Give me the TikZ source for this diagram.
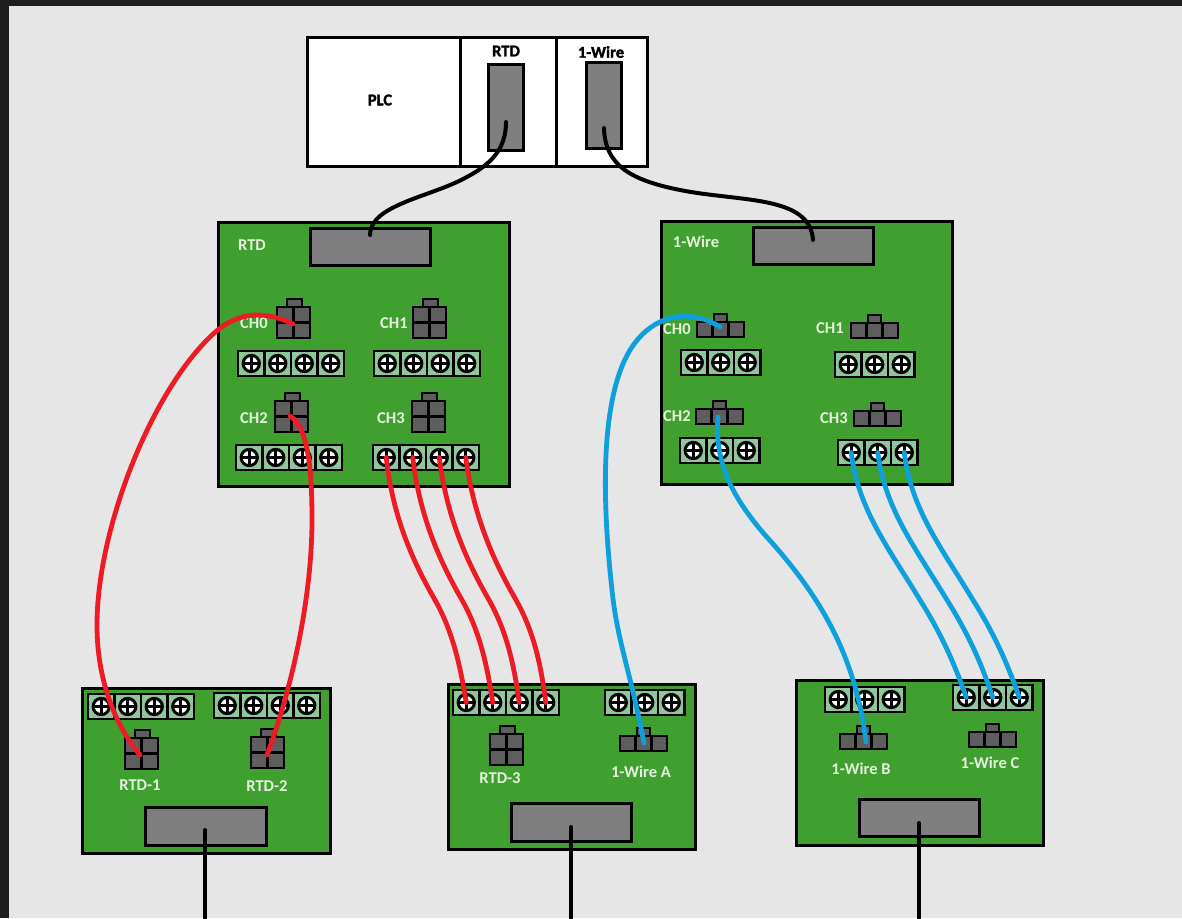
\documentclass[tikz,border=0pt]{standalone}
\usepackage{fontspec}
\setmainfont{Carlito}
\newfontfamily\plcfont[UprightFont=* Bold,FakeBold=1.6]{Carlito}
\definecolor{bgdark}{HTML}{1E1E1E}
\definecolor{bglight}{HTML}{E6E6E6}
\definecolor{board}{HTML}{3FA030}
\definecolor{cellg}{HTML}{8FC79B}
\definecolor{slotg}{HTML}{7F7F7F}
\definecolor{ping}{HTML}{5E5E5E}
\definecolor{wred}{HTML}{ED1C24}
\definecolor{wblue}{HTML}{0E9FDD}
\definecolor{lbl}{HTML}{E4F1DC}
\tikzset{
  pxbox/.style={draw=black,rectangle,inner sep=0pt,outer sep=0pt,anchor=north west},
  boardbox/.style={pxbox,fill=board,line width=2.25pt},
  whitebox/.style={pxbox,fill=white,line width=2.25pt},
  slotbox/.style={pxbox,fill=slotg,line width=2.25pt},
  pinbox/.style={pxbox,fill=ping,line width=1.9pt},
  cellbox/.style={pxbox,fill=cellg,line width=1.9pt},
  screwhead/.style={circle,fill=black,inner sep=0pt,outer sep=0pt,minimum size=14.5pt},
  boardlabel/.style={text=lbl,font=\fontsize{12.4}{14}\selectfont\bfseries,inner sep=0pt},
  plclabel/.style={text=black,font=\fontsize{12.4}{14}\selectfont\plcfont,inner sep=0pt},
  wire/.style={line cap=round,line join=round},
  blackwire/.style={wire,draw=black,line width=3pt},
  redwire/.style={wire,draw=wred,line width=3.6pt},
  bluewire/.style={wire,draw=wblue,line width=3.6pt},
}
% box by corners in reference pixels
\newcommand{\pxrect}[6]{%
  \pgfmathsetmacro{\pxw}{(#5-#3)*0.75}\pgfmathsetmacro{\pxh}{(#6-#4)*0.75}%
  \node[#2,minimum width=\pxw pt,minimum height=\pxh pt] (#1) at (#3,#4) {};}
% terminal block: name, left, top, ways
\newcommand{\termblock}[4]{%
  \foreach \k in {1,...,#4}{%
    \pgfmathsetmacro{\cx}{#2+1+26.5*(\k-1)}%
    \pgfmathsetmacro{\cxe}{\cx+26.5}%
    \pgfmathsetmacro{\ctp}{#3+1}%
    \pgfmathsetmacro{\cbt}{#3+26}%
    \pxrect{#1-c\k}{cellbox}{\cx}{\ctp}{\cxe}{\cbt}
    \pgfmathsetmacro{\sx}{\cx+13.25}\pgfmathsetmacro{\sy}{#3+13.5}%
    \node[screwhead] (#1-\k) at (\sx,\sy) {};
    \fill[white] (#1-\k) circle (6.5);
    \draw[black,line width=2.1pt] ([xshift=-5.2pt]#1-\k.center) -- ([xshift=5.2pt]#1-\k.center);
    \draw[black,line width=2.1pt] ([yshift=-5.2pt]#1-\k.center) -- ([yshift=5.2pt]#1-\k.center);
  }}
% 4-pin connector: name, left, top
\newcommand{\fourpin}[3]{%
  \pgfmathsetmacro{\tx}{#2+11}\pgfmathsetmacro{\ty}{#3-7}\pgfmathsetmacro{\txe}{#2+26}%
  \pgfmathsetmacro{\tye}{#3+1}%
  \pxrect{#1-tab}{pinbox}{\tx}{\ty}{\txe}{\tye}
  \foreach \r/\c in {0/0,0/1,1/0,1/1}{%
    \pgfmathsetmacro{\ax}{#2+1+16.5*\c}\pgfmathsetmacro{\ay}{#3+1+15.5*\r}%
    \pgfmathsetmacro{\bx}{\ax+16.5}\pgfmathsetmacro{\by}{\ay+15.5}%
    \pxrect{#1-r\r c\c}{pinbox}{\ax}{\ay}{\bx}{\by}
  }}
% 3-pin connector: name, left, top
\newcommand{\threepin}[3]{%
  \pgfmathsetmacro{\tx}{#2+18}\pgfmathsetmacro{\ty}{#3-7}\pgfmathsetmacro{\txe}{#2+31}%
  \pgfmathsetmacro{\tye}{#3+1}%
  \pxrect{#1-tab}{pinbox}{\tx}{\ty}{\txe}{\tye}
  \foreach \c in {0,1,2}{%
    \pgfmathsetmacro{\ax}{#2+1+15.67*\c}\pgfmathsetmacro{\bx}{\ax+15.67}\pgfmathsetmacro{\ay}{#3+1}\pgfmathsetmacro{\by}{#3+16}%
    \pxrect{#1-p\c}{pinbox}{\ax}{\ay}{\bx}{\by}
  }}
\begin{document}
\begin{tikzpicture}[x=0.75pt,y=-0.75pt]
\useasboundingbox (0,0) rectangle (1182,918);
\fill[bgdark] (0,0) rectangle (1182,918);
\fill[bglight] (9,6) rectangle (1182,918);

% PLC
\pxrect{plc}{whitebox}{307}{37}{460}{166}
\pxrect{plcrtd}{whitebox}{460}{37}{556}{166}
\pxrect{plcow}{whitebox}{556}{37}{647}{166}
\pxrect{slotrtd}{slotbox}{488}{64}{523}{150}
\pxrect{slotow}{slotbox}{586}{62}{621}{148}
\node[plclabel] (tplc) at (380,100) {PLC};
\node[plclabel] (trtd) at (506,51) {RTD};
\node[plclabel] (tow) at (601,52) {1-Wire};

% Boards
\pxrect{brtd}{boardbox}{218}{222}{509}{486}
\pxrect{bow}{boardbox}{661}{221}{952}{484}
\pxrect{bl1}{boardbox}{82}{688}{330}{853}
\pxrect{bl2}{boardbox}{448}{684}{695}{849}
\pxrect{bl3}{boardbox}{796}{680}{1043}{845}

% Grey connectors
\pxrect{grtd}{slotbox}{310}{228}{430}{265}
\pxrect{gow}{slotbox}{753}{227}{873}{264}
\pxrect{gl1}{slotbox}{145}{807}{266}{845}
\pxrect{gl2}{slotbox}{511}{803}{631}{841}
\pxrect{gl3}{slotbox}{859}{799}{979}{836}

% Terminal blocks
\termblock{tb0}{237}{350}{4}
\termblock{tb1}{373}{350}{4}
\termblock{tb2}{235}{444}{4}
\termblock{tb3}{372}{444}{4}
\termblock{tr1}{87}{693}{4}
\termblock{tr2}{213}{692}{4}
\termblock{tr3}{452}{689}{4}
\termblock{to0}{680}{349}{3}
\termblock{to1}{834}{351}{3}
\termblock{to2}{679}{437}{3}
\termblock{to3}{837}{439}{3}
\termblock{toa}{604}{689}{3}
\termblock{tob}{824}{686}{3}
\termblock{toc}{952}{684}{3}

% Connectors
\fourpin{c0}{276}{306}
\fourpin{c1}{412}{306}
\fourpin{c2}{274}{400}
\fourpin{c3}{411}{400}
\fourpin{cr1}{124}{737}
\fourpin{cr2}{250}{736}
\fourpin{cr3}{489}{733}
\threepin{w0}{696}{321}
\threepin{w1}{850}{322}
\threepin{w2}{695}{408}
\threepin{w3}{853}{410}
\threepin{wa}{619}{735}
\threepin{wb}{839}{733}
\threepin{wc}{968}{731}

% Labels
\node[boardlabel] (lrtd) at (252,245) {RTD};
\node[boardlabel] (low) at (696,242) {1-Wire};
\node[boardlabel] (lc0) at (254,323) {CH0};
\node[boardlabel] (lc1) at (394,323) {CH1};
\node[boardlabel] (lc2) at (254,418) {CH2};
\node[boardlabel] (lc3) at (391,418) {CH3};
\node[boardlabel] (lw0) at (677,329) {CH0};
\node[boardlabel] (lw1) at (830,328) {CH1};
\node[boardlabel] (lw2) at (677,416) {CH2};
\node[boardlabel] (lw3) at (834,418) {CH3};
\node[boardlabel] (lr1) at (140,785) {RTD-1};
\node[boardlabel] (lr2) at (267,786) {RTD-2};
\node[boardlabel] (lr3) at (500,778) {RTD-3};
\node[boardlabel] (la) at (641,772) {1-Wire A};
\node[boardlabel] (lb) at (861,769) {1-Wire B};
\node[boardlabel] (lcc) at (990,763) {1-Wire C};

% Wire end points
\coordinate (ertd) at (506,122);
\coordinate (eow) at (604,128);
\coordinate (egrtd) at (370,235);
\coordinate (egow) at (813,240);
\coordinate (eg1) at (205,830);
\coordinate (eg2) at (571,827);
\coordinate (eg3) at (919,823);
\coordinate (off1) at (205,918);
\coordinate (off2) at (571,918);
\coordinate (off3) at (919,918);
\coordinate (pc0) at (293,324);
\coordinate (pc2) at (290,416);
\coordinate (pr1) at (140,755);
\coordinate (pr2) at (267,755);
\coordinate (pw0) at (720,327);
\coordinate (pw2) at (718,417);
\coordinate (pwa) at (644,743);
\coordinate (pwb) at (866,742);

% Black cables
\draw[blackwire] (ertd) .. controls (506,150) and (490,165) .. (465,178) .. controls (430,197) and (370,205) .. (egrtd);
\draw[blackwire] (eow) .. controls (605,165) and (630,180) .. (680,190) .. controls (740,202) and (810,195) .. (egow);
\draw[blackwire] (eg1) -- (off1);
\draw[blackwire] (eg2) -- (off2);
\draw[blackwire] (eg3) -- (off3);

% Red wires
\draw[redwire] (pc0) .. controls (270,313) and (240,307) .. (210,337) .. controls (150,395) and (97,530) .. (97,625) .. controls (97,680) and (115,725) .. (pr1);
\draw[redwire] (pc2) .. controls (310,428) and (312,480) .. (312,520) .. controls (312,590) and (295,680) .. (pr2);
\draw[redwire] (tb3-1.center) .. controls (393,520) and (415,565) .. (435,600) .. controls (453,632) and (460,665) .. (tr3-1.center);
\draw[redwire] (tb3-2.center) .. controls (420,520) and (442,565) .. (462,600) .. controls (480,632) and (487,665) .. (tr3-2.center);
\draw[redwire] (tb3-3.center) .. controls (447,520) and (469,565) .. (489,600) .. controls (507,632) and (514,665) .. (tr3-3.center);
\draw[redwire] (tb3-4.center) .. controls (474,520) and (496,565) .. (516,600) .. controls (534,632) and (541,665) .. (tr3-4.center);

% Blue wires
\draw[bluewire] (pw0) .. controls (695,310) and (655,310) .. (630,350) .. controls (600,400) and (602,500) .. (612,590) .. controls (617,640) and (630,670) .. (pwa);
\draw[bluewire] (pw2) .. controls (714,465) and (735,500) .. (765,535) .. controls (815,590) and (855,650) .. (pwb);
\draw[bluewire] (to3-1.center) .. controls (858,510) and (890,550) .. (920,600) .. controls (942,635) and (955,665) .. (toc-1.center);
\draw[bluewire] (to3-2.center) .. controls (885,510) and (917,550) .. (947,600) .. controls (969,635) and (982,665) .. (toc-2.center);
\draw[bluewire] (to3-3.center) .. controls (911,510) and (943,550) .. (973,600) .. controls (995,635) and (1008,665) .. (toc-3.center);
\end{tikzpicture}
\end{document}
